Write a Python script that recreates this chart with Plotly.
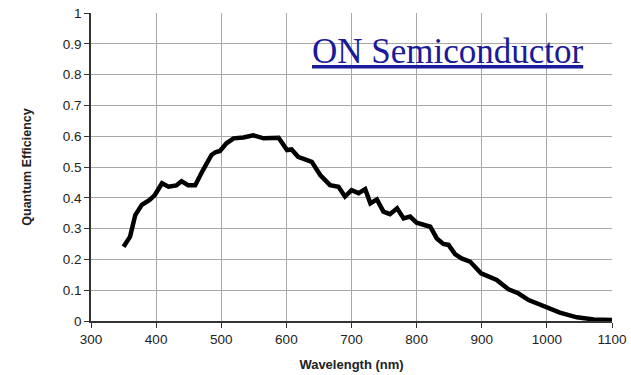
import plotly.graph_objects as go

wavelength = [350, 360, 368, 378, 390, 398, 409, 419, 431, 439, 449, 460, 472, 485, 491, 498, 508, 519,
              534, 549, 565, 588, 601, 608, 618, 629, 639, 652, 667, 680, 690, 700, 711, 721, 729, 739,
              749, 759, 770, 780, 790, 800, 821, 831, 841, 849, 859, 869, 882, 899, 915, 923, 941, 956,
              972, 986, 1000, 1020, 1046, 1072, 1100]
qe = [0.241, 0.274, 0.344, 0.377, 0.393, 0.409, 0.447, 0.436, 0.440, 0.454, 0.441, 0.441, 0.490, 0.539,
      0.548, 0.552, 0.577, 0.593, 0.596, 0.603, 0.593, 0.595, 0.555, 0.557, 0.533, 0.523, 0.517, 0.474,
      0.441, 0.436, 0.404, 0.425, 0.415, 0.428, 0.382, 0.395, 0.355, 0.347, 0.366, 0.333, 0.339, 0.319,
      0.306, 0.268, 0.250, 0.247, 0.217, 0.203, 0.193, 0.155, 0.142, 0.133, 0.103, 0.090, 0.068, 0.055,
      0.044, 0.027, 0.012, 0.005, 0.003]

x_ticks = [300, 400, 500, 600, 700, 800, 900, 1000, 1100]
y_ticks = [0, 0.1, 0.2, 0.3, 0.4, 0.5, 0.6, 0.7, 0.8, 0.9, 1]
y_tick_labels = ["0", "0.1", "0.2", "0.3", "0.4", "0.5", "0.6", "0.7", "0.8", "0.9", "1"]

fig = go.Figure()
fig.add_trace(go.Scatter(x=wavelength, y=qe, mode="lines",
                         line=dict(color="black", width=4.5), showlegend=False))

fig.update_layout(
    width=631, height=375,
    margin=dict(l=91, r=19, t=13, b=54),
    paper_bgcolor="white", plot_bgcolor="white",
    font=dict(family="Liberation Sans, Arial", size=13.5, color="#222"),
    xaxis=dict(range=[300, 1100], tickvals=x_ticks, showgrid=True, gridcolor="#a8a8a8",
               gridwidth=1, showline=True, linecolor="#333", linewidth=1.5,
               ticks="outside", ticklen=5, tickcolor="#333", zeroline=False, automargin=False,
               title=dict(text="<b>Wavelength (nm)</b>", font=dict(size=13, color="#222"), standoff=14),
               mirror=False),
    yaxis=dict(range=[0, 1], tickvals=y_ticks, ticktext=y_tick_labels, showgrid=True,
               gridcolor="#a8a8a8", gridwidth=1, showline=True, linecolor="#333", linewidth=1.5,
               ticks="outside", ticklen=5, tickcolor="#333", zeroline=False, automargin=False,
               title=dict(text="<b>Quantum Efficiency</b>", font=dict(size=12.5, color="#222"), standoff=28)),
    annotations=[dict(text="<u>ON Semiconductor</u>", xref="paper", yref="paper",
                      x=0.95, y=0.875, xanchor="right", yanchor="middle", showarrow=False,
                      font=dict(family="Liberation Serif, serif", size=35, color="#1a1a9a"))],
)

fig.write_html("out.html")
